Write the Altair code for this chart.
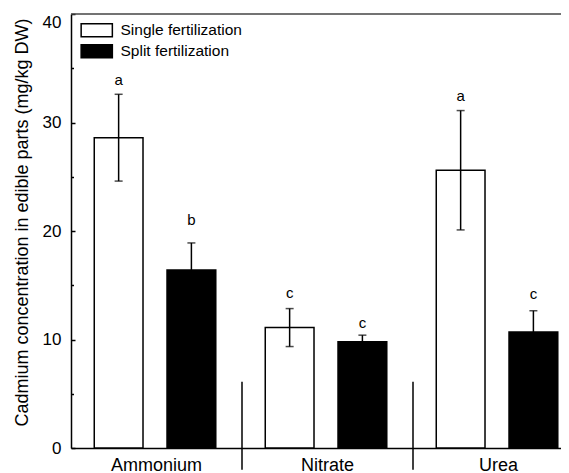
import altair as alt
import pandas as pd

FONT = "Liberation Sans"

groups = ["Ammonium", "Nitrate", "Urea"]
treatments = ["Single fertilization", "Split fertilization"]
single_mean = [28.6, 11.1, 25.6]
single_sd = [4.0, 1.75, 5.5]
split_mean = [16.4, 9.8, 10.7]
split_sd = [2.5, 0.6, 1.95]
single_letters = ["a", "c", "a"]
split_letters = ["b", "c", "c"]
single_letter_y = [33.9, 14.3, 32.4]
split_letter_y = [21.0, 11.5, 14.2]
y_ticks_major = [0, 10, 20, 30, 40]
y_ticks_minor = [5, 15, 25, 35]
frame_top = [40]
sep_groups = ["Nitrate", "Urea"]
sep_top = [6.1, 6.1]
sep_bottom = [-2.0, -2.0]

rows = []
for i, g in enumerate(groups):
    rows.append(dict(group=g, treatment=treatments[0], mean=single_mean[i],
                     lo=single_mean[i] - single_sd[i], hi=single_mean[i] + single_sd[i],
                     letter=single_letters[i], ly=single_letter_y[i]))
    rows.append(dict(group=g, treatment=treatments[1], mean=split_mean[i],
                     lo=split_mean[i] - split_sd[i], hi=split_mean[i] + split_sd[i],
                     letter=split_letters[i], ly=split_letter_y[i]))
df = pd.DataFrame(rows)
sep_df = pd.DataFrame({"group": sep_groups, "top": sep_top, "bottom": sep_bottom})
frame_df = pd.DataFrame({"v": frame_top})

W, H = 490, 434
FULL = 513  # full extent of the three groups; the right part is cut off as in the original
yscale = alt.Scale(domain=[0, 40], nice=False, zero=True)

x_axis = alt.Axis(title=None, orient="bottom", ticks=False, labelAngle=0, labelFontSize=18,
                  labelColor="black", domainColor="black", domainWidth=1.5,
                  labelPadding=8)
x_scale = alt.Scale(paddingInner=0, paddingOuter=0, range=[0, FULL])
x_enc = alt.X("group:N", sort=groups, scale=x_scale, axis=x_axis)
xo_enc = alt.XOffset("treatment:N", sort=treatments,
                     scale=alt.Scale(paddingInner=0.33, paddingOuter=0.34, align=0.47))

left_axis = alt.Axis(title="Cadmium concentration in edible parts (mg/kg DW)",
                     values=y_ticks_major, ticks=False, tickSize=0, labelPadding=10,
                     labelFontSize=17, titleFontSize=18, titleFontWeight="normal",
                     labelBaseline={"condition": {"test": "datum.value == 40", "value": "top"},
                                    "value": "middle"},
                     labelColor="black", titleColor="black", domainColor="black",
                     domainWidth=1.5, grid=False, titlePadding=11, titleY=208)
major_axis = alt.Axis(orient="right", offset=-W, values=y_ticks_major, labels=False,
                      domain=False, tickSize=4, tickWidth=1.5, tickColor="black",
                      title=None, grid=False)
minor_axis = alt.Axis(orient="right", offset=-W, values=y_ticks_minor, labels=False,
                      domain=False, tickSize=2.5, tickWidth=1.5, tickColor="black",
                      title=None, grid=False)

base = alt.Chart(df)

bars = base.mark_bar(stroke="black", strokeWidth=1.5).encode(
    x=x_enc, xOffset=xo_enc,
    y=alt.Y("mean:Q", scale=yscale, axis=left_axis),
    fill=alt.Fill("treatment:N", sort=treatments,
                  scale=alt.Scale(domain=treatments, range=["white", "black"]),
                  legend=alt.Legend(title=None, orient="none", legendX=18, legendY=8.5,
                                    symbolType="M-2.4,-1H2.4V1H-2.4Z", symbolSize=169,
                                    symbolStrokeColor="black", symbolStrokeWidth=1.5,
                                    labelFontSize=15.5, labelColor="black",
                                    labelOffset=16, rowPadding=1, padding=0)),
)

err = base.mark_rule(color="black", strokeWidth=1.5).encode(
    x=x_enc, xOffset=xo_enc,
    y=alt.Y("lo:Q", scale=yscale, axis=major_axis), y2="hi:Q",
)
cap_hi = base.mark_tick(color="black", size=8, thickness=1.5).encode(
    x=x_enc, xOffset=xo_enc,
    y=alt.Y("hi:Q", scale=yscale, axis=minor_axis),
)
cap_lo = base.mark_tick(color="black", size=8, thickness=1.5).encode(
    x=x_enc, xOffset=xo_enc,
    y=alt.Y("lo:Q", scale=yscale, axis=None),
)
letters = base.mark_text(fontSize=15, color="black", baseline="middle").encode(
    x=x_enc, xOffset=xo_enc,
    y=alt.Y("ly:Q", scale=yscale, axis=None),
    text="letter:N",
)
seps = alt.Chart(sep_df).mark_rule(color="black", strokeWidth=1.5).encode(
    x=alt.X("group:N", sort=groups, scale=x_scale, axis=x_axis, bandPosition=0),
    y=alt.Y("top:Q", scale=yscale, axis=None), y2="bottom:Q",
)
frame = alt.Chart(frame_df).mark_rule(color="#444", strokeWidth=1.5).encode(
    y=alt.Y("v:Q", scale=yscale, axis=None),
)

chart = alt.layer(bars, err, cap_hi, cap_lo, letters, seps, frame).resolve_axis(
    y="independent", x="shared"
).properties(
    width=W, height=H, autosize="none",
    padding={"left": 63, "top": 6, "right": 0, "bottom": 30},
).configure_view(
    stroke=None
).configure_axis(
    labelFont=FONT, titleFont=FONT
).configure_legend(
    labelFont=FONT
).configure_text(
    font=FONT
)

chart.save("out.html", embed_options={"renderer": "svg", "actions": False})
